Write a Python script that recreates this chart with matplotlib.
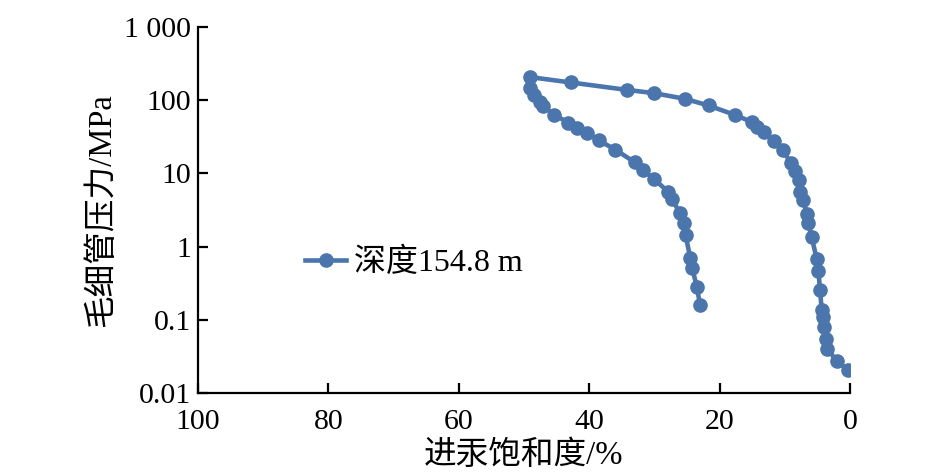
import matplotlib
matplotlib.use('Agg')
import matplotlib.pyplot as plt
from matplotlib.ticker import FixedLocator, NullLocator

plt.rcParams['font.family'] = ['Liberation Serif', 'Noto Sans CJK SC']
plt.rcParams['axes.unicode_minus'] = False

# mercury saturation (%) and capillary pressure (MPa), depth 154.8 m
saturation = [0.26, 2.0, 3.5, 3.75, 3.96, 4.2, 4.35, 4.6, 4.85, 5.1,
              5.9, 6.4, 6.6, 7.2, 7.7, 7.9, 8.4, 9.1, 10.3, 11.7,
              13.2, 14.2, 15.0, 17.7, 21.7, 25.3, 30.1, 34.2, 42.8, 49.1,
              49.1, 48.5, 47.6, 47.1, 45.4, 43.2, 41.8, 40.3, 38.5, 36.0,
              33.0, 31.7, 30.1, 27.9, 27.3, 26.1, 25.5, 25.2, 24.5, 24.2,
              23.5, 23.0]
pressure = [0.0205, 0.0274, 0.0405, 0.0546, 0.081, 0.111, 0.138, 0.257, 0.466, 0.673,
            1.37, 2.09, 2.79, 4.3, 5.6, 8.1, 10.8, 14.0, 20.5, 27.5,
            36, 43, 49.8, 62.7, 84, 103.5, 124, 137, 173, 205,
            145, 117, 95, 83, 63, 49, 41, 35, 28, 21,
            14.1, 11.1, 8.4, 5.6, 4.5, 2.86, 2.1, 1.42, 0.695, 0.507,
            0.285, 0.160]

x_ticks = [100, 80, 60, 40, 20, 0]
y_ticks = [0.01, 0.1, 1, 10, 100, 1000]
y_labels = ['0.01', '0.1', '1', '10', '100', '1 000']

color = '#4a75ad'

fig = plt.figure(figsize=(9.45, 4.75), dpi=100)
ax = fig.add_axes([0.2095, 0.172, 0.69, 0.772])

ax.plot(saturation, pressure, color=color, lw=3.3, marker='o', ms=9.5,
        label='深度154.8 m')

ax.set_yscale('log')
ax.set_ylim(0.01, 1000)
ax.set_xlim(100, 0)
ax.xaxis.set_major_locator(FixedLocator(x_ticks))
ax.yaxis.set_major_locator(FixedLocator(y_ticks))
ax.yaxis.set_minor_locator(NullLocator())
ax.set_yticklabels(y_labels)

for s in ['top', 'right']:
    ax.spines[s].set_visible(False)
for s in ['left', 'bottom']:
    ax.spines[s].set_linewidth(1.6)
    ax.spines[s].set_color('black')

ax.tick_params(direction='in', length=7, width=1.6, labelsize=21.5, pad=5)
ax.tick_params(axis='x', pad=11)

ax.set_xlabel('进汞饱和度/%', fontsize=23.5, labelpad=4)
ax.set_ylabel('毛细管压力/MPa', fontsize=23.5, labelpad=5)

ax.legend(loc='center left', bbox_to_anchor=(0.164, 0.355), frameon=False,
          fontsize=23, handlelength=1.3, handletextpad=0.25,
          borderpad=0, borderaxespad=0)

fig.savefig('out.png', dpi=100)
